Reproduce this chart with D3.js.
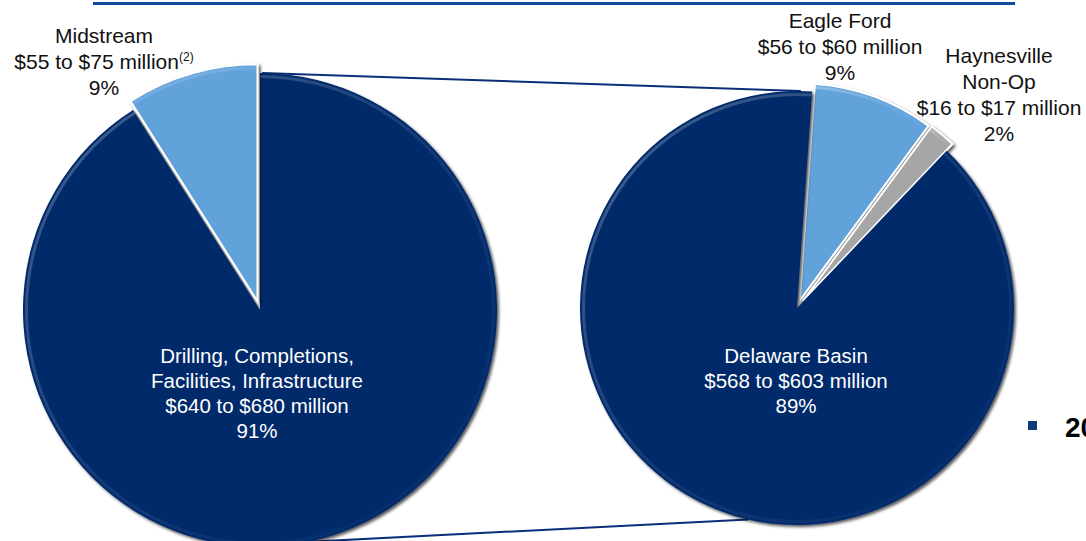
<!DOCTYPE html>
<html>
<head>
<meta charset="utf-8">
<script src="https://cdn.jsdelivr.net/npm/d3@7"></script>
<style>
  body { margin: 0; background: #fff; }
  text { font-family: "Liberation Sans", Arial, sans-serif; }
  .out-label { fill: #111; font-size: 21px; }
  .in-label { fill: #fff; font-size: 20.5px; }
</style>
</head>
<body>
<div id="chart"></div>
<script>
//////////////////////////////////////////////////////////////
//////////////////////////// Data ////////////////////////////
//////////////////////////////////////////////////////////////

//Left pie - total capital budget
const leftCats = ["Drilling, Completions, Facilities, Infrastructure", "Midstream"]
const leftValues = [91, 9]
const leftRanges = ["$640 to $680 million", "$55 to $75 million"]
const leftNotes = ["", "(2)"]

//Right pie - drilling & completion split by area
const rightCats = ["Eagle Ford", "Haynesville Non-Op", "Delaware Basin"]
const rightValues = [9, 2, 89]
const rightRanges = ["$56 to $60 million", "$16 to $17 million", "$568 to $603 million"]

//////////////////////////////////////////////////////////////
////////////////////////// Layout ////////////////////////////
//////////////////////////////////////////////////////////////

const width = 1086
const height = 541
const deg = Math.PI / 180

const leftPie = { cx: 260, cy: 310, r: 237, rot: 0 }
const rightPie = { cx: 797, cy: 308, r: 217, rot: 4 * deg }

const colors = {
  "Drilling, Completions, Facilities, Infrastructure": "#05296b",
  "Midstream": "#62a2db",
  "Delaware Basin": "#05296b",
  "Eagle Ford": "#62a2db",
  "Haynesville Non-Op": "#a6a6a6"
}
const exploded = { "Midstream": 9, "Eagle Ford": 8, "Haynesville Non-Op": 9 }

//Label placement relative to each pie centre
const labelSpots = {
  "Drilling, Completions, Facilities, Infrastructure": { x: -3, y: 53, lines: ["Drilling, Completions,", "Facilities, Infrastructure"], inside: true },
  "Midstream": { x: -156, y: -267, lines: ["Midstream"] },
  "Delaware Basin": { x: -1, y: 55, lines: ["Delaware Basin"], inside: true },
  "Eagle Ford": { x: 43, y: -280, lines: ["Eagle Ford"] },
  "Haynesville Non-Op": { x: 202, y: -245, lines: ["Haynesville", "Non-Op"] }
}

const svg = d3.select("#chart").append("svg")
  .attr("width", width)
  .attr("height", height)

//////////////////////////////////////////////////////////////
////////////////////// SVG effects ///////////////////////////
//////////////////////////////////////////////////////////////

const defs = svg.append("defs")

const shadow = defs.append("filter").attr("id", "shadow")
  .attr("x", "-10%").attr("y", "-10%").attr("width", "120%").attr("height", "120%")
shadow.append("feDropShadow")
  .attr("dx", 2).attr("dy", 2)
  .attr("stdDeviation", 1.6)
  .attr("flood-color", "#000")
  .attr("flood-opacity", 0.65)

const rim = defs.append("linearGradient").attr("id", "rim")
  .attr("x1", 0).attr("y1", 0).attr("x2", 1).attr("y2", 1)
rim.append("stop").attr("offset", "0%").attr("stop-color", "#fff").attr("stop-opacity", 0.28)
rim.append("stop").attr("offset", "50%").attr("stop-color", "#fff").attr("stop-opacity", 0.08)
rim.append("stop").attr("offset", "100%").attr("stop-color", "#fff").attr("stop-opacity", 0)

//////////////////////////////////////////////////////////////
//////////////////////// Header line /////////////////////////
//////////////////////////////////////////////////////////////

svg.append("line")
  .attr("x1", 93).attr("x2", 1015)
  .attr("y1", 3.5).attr("y2", 3.5)
  .style("stroke", "#0b4a9c")
  .style("stroke-width", 3)

//////////////////////////////////////////////////////////////
///////////////////// Connector lines ////////////////////////
//////////////////////////////////////////////////////////////

function edgePoint(p, a) {
  return [p.cx + p.r * Math.sin(a), p.cy - p.r * Math.cos(a)]
}

const connectors = [
  [edgePoint(leftPie, 0.5 * deg), edgePoint(rightPie, 1 * deg)],
  [edgePoint(leftPie, 168 * deg), edgePoint(rightPie, 193 * deg)]
]

svg.append("g").selectAll("line")
  .data(connectors)
  .enter().append("line")
  .attr("x1", d => d[0][0]).attr("y1", d => d[0][1])
  .attr("x2", d => d[1][0]).attr("y2", d => d[1][1])
  .style("stroke", "#0a2f78")
  .style("stroke-width", 2)

//////////////////////////////////////////////////////////////
////////////////////////// Pies //////////////////////////////
//////////////////////////////////////////////////////////////

function drawPie(p, cats, values, ranges, notes) {
  const data = cats.map((c, i) => ({ cat: c, value: values[i], range: ranges[i], note: notes ? notes[i] : "" }))

  const pie = d3.pie()
    .value(d => d.value)
    .sort(null)
    .startAngle(p.rot)
    .endAngle(p.rot + 2 * Math.PI)

  const arc = d3.arc().innerRadius(0).outerRadius(p.r)
  const rimArc = d3.arc().innerRadius(p.r - 5).outerRadius(p.r - 2)

  const g = svg.append("g")
    .attr("transform", "translate(" + p.cx + "," + p.cy + ")")

  const slices = g.selectAll(".slice")
    .data(pie(data))
    .enter().append("g")
    .attr("class", "slice")
    .attr("transform", d => {
      const e = exploded[d.data.cat] || 0
      const a = (d.startAngle + d.endAngle) / 2
      return "translate(" + (e * Math.sin(a)) + "," + (-e * Math.cos(a)) + ")"
    })

  slices.append("path")
    .attr("d", arc)
    .style("fill", d => colors[d.data.cat])
    .style("stroke", d => exploded[d.data.cat] ? "#fff" : "none")
    .style("stroke-width", 2)
    .style("filter", "url(#shadow)")

  //Soft bevel on the rim
  slices.append("path")
    .attr("d", rimArc)
    .style("fill", "url(#rim)")

  //Labels
  const labels = g.selectAll(".label")
    .data(data)
    .enter().append("text")
    .attr("class", d => labelSpots[d.cat].inside ? "in-label" : "out-label")
    .attr("text-anchor", "middle")
    .attr("transform", d => "translate(" + labelSpots[d.cat].x + "," + labelSpots[d.cat].y + ")")

  labels.each(function(d) {
    const t = d3.select(this)
    const rows = labelSpots[d.cat].lines.concat([d.range])
    const step = labelSpots[d.cat].inside ? 25 : 26
    rows.forEach((row, i) => {
      t.append("tspan").attr("x", 0).attr("y", i * step).text(row)
    })
    if (d.note) {
      t.append("tspan")
        .attr("dy", -8)
        .style("font-size", "12px")
        .text(d.note)
    }
    t.append("tspan").attr("x", 0).attr("y", rows.length * step).text(d.value + "%")
  })
}

drawPie(leftPie, leftCats, leftValues, leftRanges, leftNotes)
drawPie(rightPie, rightCats, rightValues, rightRanges, null)

//////////////////////////////////////////////////////////////
///////////////////// Cut-off bullet /////////////////////////
//////////////////////////////////////////////////////////////

svg.append("rect")
  .attr("x", 1028).attr("y", 421)
  .attr("width", 9).attr("height", 9)
  .style("fill", "#0b3d7a")

svg.append("text")
  .attr("x", 1065).attr("y", 437)
  .style("font-size", "28px")
  .style("font-weight", "bold")
  .style("fill", "#000")
  .text("20")
</script>
</body>
</html>
